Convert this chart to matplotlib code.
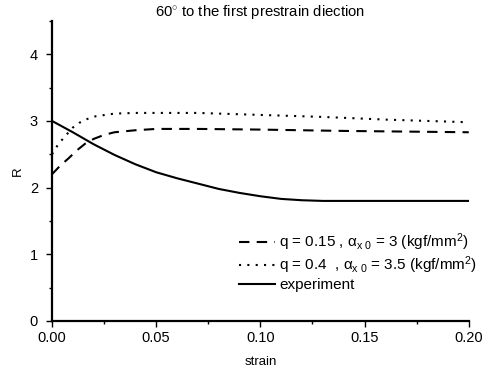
import matplotlib
matplotlib.use('Agg')
import matplotlib.pyplot as plt
from matplotlib.ticker import MultipleLocator

plt.rcParams['font.family'] = 'Liberation Sans'
plt.rcParams['mathtext.fontset'] = 'custom'
plt.rcParams['mathtext.rm'] = 'Liberation Sans'
plt.rcParams['mathtext.it'] = 'Liberation Sans'

##########################################
#Data
strain_exp = [0.0, 0.01, 0.02, 0.03, 0.04, 0.05, 0.06, 0.07, 0.08, 0.09, 0.10, 0.11, 0.12, 0.13, 0.16, 0.20]
R_exp = [3.0, 2.83, 2.65, 2.49, 2.35, 2.23, 2.14, 2.06, 1.98, 1.92, 1.87, 1.83, 1.81, 1.80, 1.80, 1.80]

strain_q015 = [0.0, 0.004, 0.008, 0.012, 0.016, 0.02, 0.025, 0.03, 0.04, 0.05, 0.07, 0.10, 0.14, 0.20]
R_q015 = [2.2, 2.33, 2.44, 2.56, 2.66, 2.73, 2.79, 2.83, 2.86, 2.88, 2.88, 2.87, 2.85, 2.83]

strain_q04 = [0.0, 0.003, 0.0063, 0.01, 0.013, 0.017, 0.021, 0.03, 0.04, 0.07, 0.10, 0.13, 0.16, 0.20]
R_q04 = [2.5, 2.65, 2.77, 2.9, 2.97, 3.03, 3.07, 3.11, 3.12, 3.12, 3.09, 3.06, 3.02, 2.98]

labels = [r'q = 0.15 , α$_{\mathrm{x\ 0}}$ = 3 (kgf/mm$^2$)',
          r'q = 0.4  , α$_{\mathrm{x\ 0}}$ = 3.5 (kgf/mm$^2$)',
          'experiment']

##########################################
#Plot
fig = plt.figure(figsize=[4.95, 3.74], dpi=100)
ax = fig.add_axes([0.105, 0.142, 0.842, 0.802])

ax.plot(strain_q015, R_q015, color='black', linestyle=(0, (5, 3.5)), linewidth=1.5, label=labels[0])
ax.plot(strain_q04, R_q04, color='black', linestyle=(0, (1, 3)), linewidth=1.5, label=labels[1])
ax.plot(strain_exp, R_exp, color='black', linestyle='-', linewidth=1.5, label=labels[2])

ax.set_xlim(0, 0.2)
ax.set_ylim(0, 4.5)
ax.set_xticks([0.0, 0.05, 0.10, 0.15, 0.20])
ax.set_xticklabels(['0.00', '0.05', '0.10', '0.15', '0.20'])
ax.set_yticks([0, 1, 2, 3, 4])
ax.xaxis.set_minor_locator(MultipleLocator(0.025))
ax.yaxis.set_minor_locator(MultipleLocator(0.5))
ax.tick_params(which='major', direction='out', length=4, width=1, labelsize=10.5, colors='black')
ax.tick_params(axis='y', which='major', pad=6)
ax.tick_params(which='minor', direction='out', length=2.5, width=1)

for side in ['top', 'right']:
	ax.spines[side].set_visible(False)
for side in ['left', 'bottom']:
	ax.spines[side].set_linewidth(1.6)

ax.set_xlabel('strain', fontsize=9.5, labelpad=8)
ax.set_ylabel('R', fontsize=9.5, labelpad=4)
ax.set_title(r'60$^{\circ}$ to the first prestrain diection', fontsize=10.7, pad=1)

ax.legend(loc='lower right', bbox_to_anchor=(1.035, 0.075), frameon=False, fontsize=11,
	handlelength=2.3, handletextpad=0.3, labelspacing=0.12, borderaxespad=0.0)

plt.savefig('out.png', dpi=100)
plt.close()
